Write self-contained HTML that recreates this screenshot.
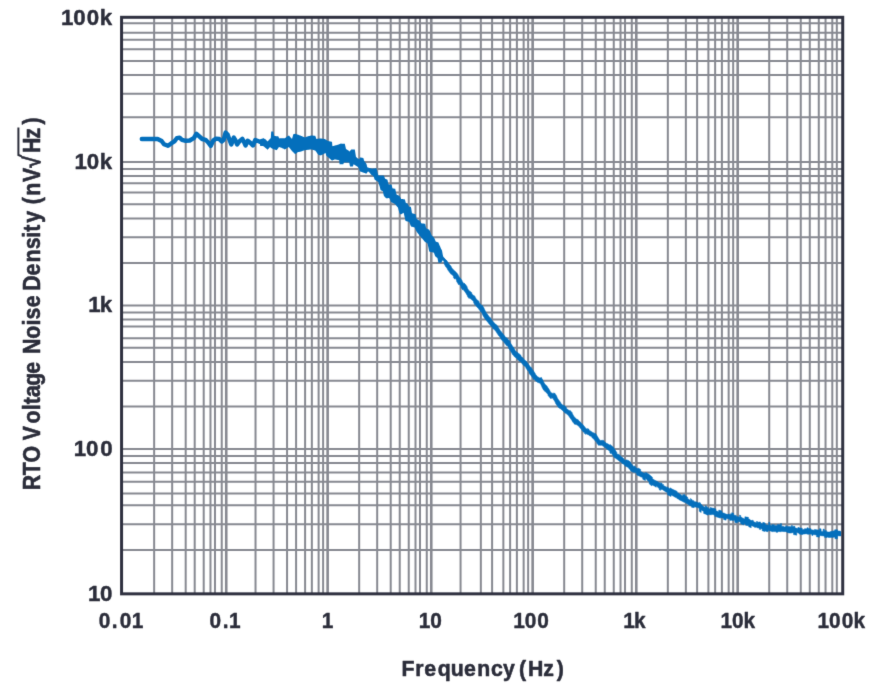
<!DOCTYPE html>
<html lang="en"><head><meta charset="utf-8"><title>RTO Voltage Noise Density vs Frequency</title>
<style>html,body{margin:0;padding:0;background:#fff}body{width:874px;height:692px;overflow:hidden}svg{display:block}</style></head>
<body>
<svg width="874" height="692" viewBox="0 0 874 692">
<defs><filter id="soft" x="0" y="0" width="874" height="692" filterUnits="userSpaceOnUse" color-interpolation-filters="sRGB"><feConvolveMatrix order="3" kernelMatrix="0.0100 0.0800 0.0100 0.0800 0.6400 0.0800 0.0100 0.0800 0.0100" edgeMode="duplicate" preserveAlpha="false"/></filter></defs>
<g filter="url(#soft)">
<rect width="874" height="692" fill="#fff"/>
<g stroke="#878991" stroke-width="2.0" fill="none">
<path d="M154.15 17.3V593.85M172.17 17.3V593.85M185.69 17.3V593.85M194.7 17.3V593.85M203.71 17.3V593.85M210.47 17.3V593.85M214.98 17.3V593.85M221.74 17.3V593.85M255.53 17.3V593.85M273.56 17.3V593.85M287.07 17.3V593.85M296.09 17.3V593.85M305.1 17.3V593.85M311.86 17.3V593.85M318.62 17.3V593.85M323.12 17.3V593.85M359.17 17.3V593.85M377.19 17.3V593.85M390.71 17.3V593.85M399.73 17.3V593.85M408.74 17.3V593.85M415.5 17.3V593.85M420 17.3V593.85M426.76 17.3V593.85M460.56 17.3V593.85M480.83 17.3V593.85M492.1 17.3V593.85M503.36 17.3V593.85M510.12 17.3V593.85M516.88 17.3V593.85M523.64 17.3V593.85M528.15 17.3V593.85M564.19 17.3V593.85M582.22 17.3V593.85M595.74 17.3V593.85M604.75 17.3V593.85M613.76 17.3V593.85M620.52 17.3V593.85M625.03 17.3V593.85M631.78 17.3V593.85M667.83 17.3V593.85M685.86 17.3V593.85M697.12 17.3V593.85M708.39 17.3V593.85M715.14 17.3V593.85M721.9 17.3V593.85M728.66 17.3V593.85M733.17 17.3V593.85M769.22 17.3V593.85M787.24 17.3V593.85M800.76 17.3V593.85M809.77 17.3V593.85M818.78 17.3V593.85M825.54 17.3V593.85M832.3 17.3V593.85M836.81 17.3V593.85M121.57 23.26H842.72M121.57 32.67H842.72M121.57 39.72H842.72M121.57 49.13H842.72M121.57 60.88H842.72M121.57 74.99H842.72M121.57 93.81H842.72M121.57 117.32H842.72M121.57 169.06H842.72M121.57 176.11H842.72M121.57 183.17H842.72M121.57 192.57H842.72M121.57 204.33H842.72M121.57 218.44H842.72M121.57 237.25H842.72M121.57 263.12H842.72M121.57 312.51H842.72M121.57 319.56H842.72M121.57 326.62H842.72M121.57 338.37H842.72M121.57 347.78H842.72M121.57 361.89H842.72M121.57 380.7H842.72M121.57 406.57H842.72M121.57 455.95H842.72M121.57 463.01H842.72M121.57 472.41H842.72M121.57 481.82H842.72M121.57 493.58H842.72M121.57 505.34H842.72M121.57 524.15H842.72M121.57 550.02H842.72"/>
<path stroke-width="2.6" d="M737.68 17.3V593.85M636.29 17.3V593.85M532.65 17.3V593.85M431.27 17.3V593.85M327.63 17.3V593.85M226.24 17.3V593.85"/>
<path stroke-width="2.05" d="M121.57 305.45H842.72M121.57 162H842.72M121.57 448.9H842.72"/>
</g>
<g fill="none" stroke="#046fbc" stroke-linejoin="round" stroke-linecap="round">
<path stroke-width="4.4" d="M141.8 139 L152 139 L157.6 139 L161.6 141 L164 144.2 L168 145.8 L171.2 143.4 L174.4 141.4 L176.8 138.2 L179.6 137.7 L182 139.8 L185.7 140.8 L189.7 140.5 L193.7 138.2 L196.5 133.8 L199.3 136.4 L202.2 139 L205.6 139.8 L208 142.2 L210.8 145.8 L213.2 140.6 L216 138.6 L219.2 139 L221.7 141.5 L223.6 139.8 L225.6 132.6 L227.6 134.6 L229.4 139.5 L231.3 144.5 L233.8 137.6 L235.4 140.2 L237.1 144.5 L239.1 141.7 L242.3 138.8 L244 141.8 L245.5 145.5 L247.7 140.7 L250.5 143 L252.9 145.5 L255.3 140 L259.3 141.5 L262.6 142.9 L263.9 141 L266 144.5"/>
<path fill="#046fbc" stroke="none" d="M260 139.4 L260.4 139.27 L260.8 139.13 L261.2 139 L261.6 138.87 L262 138.73 L262.4 138.6 L262.8 138.47 L263.2 138.33 L263.6 138.2 L264 138.52 L264.4 138.84 L264.8 139.16 L265.2 139.48 L265.6 139.8 L266 140.12 L266.4 140.44 L266.8 140.76 L267.2 141.08 L267.6 141.4 L268 140.98 L268.4 140.55 L268.8 140.13 L269.2 139.7 L269.6 139.28 L270 138.85 L270.4 138.43 L270.8 138 L271.2 131.4 L271.6 131.44 L272 131.47 L272.4 131.51 L272.8 131.55 L273.2 131.58 L273.6 132.7 L274 134.9 L274.4 136.02 L274.8 136.05 L275.2 136.08 L275.6 136.11 L276 136.14 L276.4 136.17 L276.8 136.2 L277.2 136.24 L277.6 136.29 L278 136.33 L278.4 136.38 L278.8 137.4 L279.2 138.38 L279.6 138.35 L280 138.32 L280.4 138.29 L280.8 138.26 L281.2 138.23 L281.6 138.2 L282 138.2 L282.4 138.2 L282.8 138.2 L283.2 138.2 L283.6 138.2 L284 138.2 L284.4 138.2 L284.8 138.2 L285.2 137.92 L285.6 137.64 L286 137.36 L286.4 137.08 L286.8 136.8 L287.2 136.52 L287.6 136.24 L288 135.96 L288.4 135.68 L288.8 135.4 L289.2 135.85 L289.6 136.3 L290 136.75 L290.4 137.2 L290.8 137.65 L291.2 138.1 L291.6 138.55 L292 139 L292.4 137.57 L292.8 136.14 L293.2 134.71 L293.6 133.98 L294 133.93 L294.4 133.89 L294.8 133.84 L295.2 133.8 L295.6 133.93 L296 134.07 L296.4 134.2 L296.8 134.33 L297.2 134.47 L297.6 134.6 L298 134.73 L298.4 134.87 L298.8 135 L299.2 135.13 L299.6 135.27 L300 135.4 L300.4 135.57 L300.8 135.73 L301.2 135.9 L301.6 136.07 L302 136.23 L302.4 136.4 L302.8 136.57 L303.2 136.73 L303.6 136.9 L304 137.07 L304.4 137.23 L304.8 137.4 L305.2 137.27 L305.6 137.13 L306 137 L306.4 136.87 L306.8 136.73 L307.2 136.6 L307.6 136.47 L308 136.36 L308.4 136.24 L308.8 136.12 L309.2 136.01 L309.6 135.89 L310 135.78 L310.4 135.66 L310.8 135.54 L311.2 135.43 L311.6 135.43 L312 135.47 L312.4 135.51 L312.8 135.55 L313.2 135.59 L313.6 135.63 L314 135.67 L314.4 135.71 L314.8 135.75 L315.2 135.79 L315.6 136.67 L316 137.84 L316.4 139 L316.8 138.93 L317.2 138.87 L317.6 138.8 L318 138.73 L318.4 138.67 L318.8 138.6 L319.2 138.53 L319.6 138.47 L320 138.4 L320.4 138.45 L320.8 138.5 L321.2 138.55 L321.6 138.6 L322 138.65 L322.4 138.7 L322.8 138.75 L323.2 138.8 L323.6 138.85 L324 138.9 L324.4 138.95 L324.8 139 L325.2 139.25 L325.6 139.5 L326 139.75 L326.4 140 L326.8 140.25 L327.2 140.5 L327.6 140.75 L328 141 L328.4 141.08 L328.8 141.16 L329.2 141.24 L329.6 141.32 L330 141.4 L330.4 141.48 L330.8 141.56 L331.2 141.64 L331.6 141.72 L332 141.8 L332.4 146.2 L332.8 146.09 L333.2 145.99 L333.6 145.88 L334 145.77 L334.4 145.67 L334.8 145.56 L335.2 145.45 L335.6 145.35 L336 145.24 L336.4 145.13 L336.8 145.03 L337.2 144.92 L337.6 144.81 L338 144.71 L338.4 144.6 L338.8 144.43 L339.2 144.27 L339.6 144.1 L340 143.93 L340.4 143.77 L340.8 143.6 L341.2 143.62 L341.6 143.64 L342 143.66 L342.4 143.68 L342.8 143.7 L343.2 143.72 L343.6 143.74 L344 143.76 L344.4 143.78 L344.8 143.8 L345.2 145.53 L345.6 147.27 L346 149 L346.4 149.27 L346.8 149.53 L347.2 149.8 L347.6 150.07 L348 150.33 L348.4 150.6 L348.8 150.87 L349.2 151.13 L349.6 151.4 L350 150.9 L350.4 150.4 L350.8 149.9 L351.2 149.4 L351.6 149.4 L352 149.4 L352.4 149.4 L352.8 149.4 L353.2 149.4 L353.6 149.4 L354 149.4 L354.4 149.4 L354.8 149.4 L355.2 151.93 L355.6 154.47 L356 157 L356.4 157.3 L356.8 157.6 L357.2 157.9 L357.6 158.2 L358 158.5 L358.4 158.8 L358.8 159.1 L359.2 159.4 L359.6 158.4 L360 157.4 L360.4 157.47 L360.8 157.54 L361.2 157.61 L361.6 157.68 L362 157.75 L362.4 157.82 L362.8 157.89 L363.2 157.96 L363.6 158.87 L364 160.6 L364.4 161.12 L364.8 161.63 L365.2 162.15 L365.6 162.67 L366 163.18 L366.4 163.7 L366.8 165.3 L367.2 166.9 L367.6 167.39 L368 167.51 L368.4 167.63 L368.8 167.76 L369.2 167.88 L369.6 168 L370 168.12 L370.4 168.24 L370.8 168.37 L371.2 168.49 L371.6 168.61 L372 168.69 L372.4 168.65 L372.8 168.6 L373.2 168.56 L373.6 168.52 L374 168.47 L374.4 168.43 L374.8 168.38 L375.2 168.34 L375.6 168.3 L376 168.25 L376.4 168.21 L376.8 169.43 L377.2 171.08 L377.6 172.72 L378 174.37 L378.4 175.6 L378.8 175.6 L379.2 175.6 L379.6 175.6 L380 175.6 L380.4 175.6 L380.8 175.6 L381.2 175.6 L381.6 175.6 L382 175.6 L382.4 175.6 L382.8 175.6 L383.2 175.6 L383.6 175.6 L384 176.06 L384.4 176.97 L384.8 177.89 L385.2 178.8 L385.6 178.96 L386 179.11 L386.4 179.27 L386.8 179.43 L387.2 179.58 L387.6 180.21 L388 182.26 L388.4 184.3 L388.8 184.35 L389.2 184.4 L389.6 184.45 L390 184.5 L390.4 184.55 L390.8 184.6 L391.2 184.65 L391.6 184.7 L392 186.34 L392.4 187.99 L392.8 188.44 L393.2 188.5 L393.6 188.56 L394 188.62 L394.4 188.68 L394.8 188.74 L395.2 188.8 L395.6 190.51 L396 192.23 L396.4 193.94 L396.8 194.86 L397.2 194.99 L397.6 195.12 L398 195.25 L398.4 195.38 L398.8 195.51 L399.2 195.64 L399.6 196.06 L400 196.77 L400.4 197.48 L400.8 198.19 L401.2 198.9 L401.6 198.95 L402 199.01 L402.4 199.06 L402.8 199.12 L403.2 199.17 L403.6 199.22 L404 199.28 L404.4 199.33 L404.8 199.39 L405.2 200.6 L405.6 202.2 L406 203.06 L406.4 203.17 L406.8 203.28 L407.2 203.39 L407.6 203.5 L408 204.41 L408.4 205.33 L408.8 206.24 L409.2 206.71 L409.6 206.73 L410 206.75 L410.4 206.77 L410.8 206.79 L411.2 208.22 L411.6 211.07 L412 213.23 L412.4 213.34 L412.8 213.44 L413.2 213.55 L413.6 213.66 L414 213.77 L414.4 213.88 L414.8 213.98 L415.2 214.09 L415.6 214.2 L416 216.2 L416.4 218.2 L416.8 218.89 L417.2 219.15 L417.6 219.4 L418 219.66 L418.4 219.91 L418.8 220.17 L419.2 220.42 L419.6 220.68 L420 220.94 L420.4 221.69 L420.8 222.61 L421.2 223.31 L421.6 223.36 L422 223.41 L422.4 223.46 L422.8 223.51 L423.2 223.56 L423.6 223.6 L424 223.65 L424.4 223.7 L424.8 223.75 L425.2 223.8 L425.6 225.8 L426 227.8 L426.4 228.43 L426.8 228.61 L427.2 228.78 L427.6 228.96 L428 229.13 L428.4 229.31 L428.8 229.48 L429.2 229.66 L429.6 230.42 L430 231.37 L430.4 232.33 L430.8 233.29 L431.2 234.24 L431.6 235.2 L432 235.61 L432.4 236.03 L432.8 236.44 L433.2 236.86 L433.6 237.27 L434 237.69 L434.4 238.26 L434.8 239.29 L435.2 240.31 L435.6 241.34 L436 241.7 L436.4 241.83 L436.8 241.97 L437.2 242.1 L437.6 242.23 L438 242.37 L438.4 242.5 L438.8 243.47 L439.2 244.44 L439.6 245.41 L440 246.37 L440.4 247.31 L440.8 248.13 L441.2 248.95 L441.6 249.77 L442 250.59 L442.4 252.63 L442.8 255.08 L443.2 256.54 L443.6 257.02 L444 257.5 L444.4 257.97 L444.8 258.45 L445.2 258.93 L445.6 259.41 L446 259.89 L446.4 260.37 L446.8 260.84 L447.2 261.32 L447.6 261.8 L447.6 266.5 L447.2 265.93 L446.8 265.35 L446.4 264.78 L446 264.2 L445.6 263.63 L445.2 263.06 L444.8 262.48 L444.4 261.97 L444 261.5 L443.6 261.02 L443.2 260.54 L442.8 260.21 L442.4 260.83 L442 261.46 L441.6 262.08 L441.2 262.7 L440.8 262.7 L440.4 262.7 L440 262.7 L439.6 262.7 L439.2 262.7 L438.8 262.7 L438.4 262.7 L438 260.66 L437.6 258.61 L437.2 257.87 L436.8 257.55 L436.4 257.24 L436 256.93 L435.6 256.61 L435.2 256.3 L434.8 255.16 L434.4 254.02 L434 252.88 L433.6 252.54 L433.2 252.46 L432.8 252.38 L432.4 252.31 L432 252.23 L431.6 252.15 L431.2 252.07 L430.8 251.99 L430.4 251.92 L430 251.84 L429.6 251.76 L429.2 251.24 L428.8 249.39 L428.4 247.55 L428 245.71 L427.6 243.86 L427.2 243.21 L426.8 242.95 L426.4 242.69 L426 242.44 L425.6 242.18 L425.2 241.92 L424.8 241.66 L424.4 241.24 L424 240.76 L423.6 240.28 L423.2 239.81 L422.8 239.33 L422.4 238.85 L422 238.37 L421.6 237.89 L421.2 237.42 L420.8 236.94 L420.4 236.46 L420 235.97 L419.6 235.46 L419.2 234.95 L418.8 234.44 L418.4 233.93 L418 233.42 L417.6 232.91 L417.2 232.39 L416.8 231.88 L416.4 231.28 L416 230.42 L415.6 229.56 L415.2 228.69 L414.8 227.83 L414.4 227.35 L414 227.25 L413.6 227.15 L413.2 227.05 L412.8 226.95 L412.4 226.85 L412 226.75 L411.6 226.65 L411.2 226.55 L410.8 225.99 L410.4 224.97 L410 223.94 L409.6 222.92 L409.2 221.9 L408.8 221.8 L408.4 221.71 L408 221.61 L407.6 221.51 L407.2 221.41 L406.8 221.32 L406.4 221.22 L406 221.12 L405.6 221.02 L405.2 219.63 L404.8 217.81 L404.4 215.99 L404 214.17 L403.6 212.86 L403.2 213.08 L402.8 213.31 L402.4 213.54 L402 213.76 L401.6 213.99 L401.2 214.22 L400.8 214.44 L400.4 214.18 L400 213.75 L399.6 213.32 L399.2 212.31 L398.8 210.74 L398.4 209.17 L398 207.6 L397.6 207.14 L397.2 206.67 L396.8 206.21 L396.4 205.75 L396 205.29 L395.6 204.82 L395.2 204.36 L394.8 203.9 L394.4 203.71 L394 203.51 L393.6 203.32 L393.2 203.12 L392.8 202.93 L392.4 202.73 L392 202.54 L391.6 202.34 L391.2 202.15 L390.8 201.42 L390.4 200.51 L390 199.59 L389.6 198.68 L389.2 198.01 L388.8 198.06 L388.4 198.11 L388 198.16 L387.6 198.21 L387.2 198.26 L386.8 198.31 L386.4 198.36 L386 198.28 L385.6 197.81 L385.2 197.34 L384.8 196.87 L384.4 196.4 L384 195.93 L383.6 194.68 L383.2 192.63 L382.8 191.06 L382.4 190.9 L382 190.75 L381.6 190.59 L381.2 190.43 L380.8 190.28 L380.4 189.38 L380 187.73 L379.6 186.18 L379.2 184.89 L378.8 183.61 L378.4 182.32 L378 181.81 L377.6 181.56 L377.2 181.32 L376.8 181.07 L376.4 180.82 L376 180.57 L375.6 180.32 L375.2 180.07 L374.8 179.82 L374.4 178.99 L374 177.57 L373.6 176.43 L373.2 176.15 L372.8 175.87 L372.4 175.59 L372 175.3 L371.6 175.02 L371.2 174.74 L370.8 174.34 L370.4 173.83 L370 173.31 L369.6 172.8 L369.2 172.29 L368.8 171.77 L368.4 171.63 L368 171.51 L367.6 171.9 L367.2 172.5 L366.8 173.1 L366.4 173.7 L366 173.56 L365.6 173.41 L365.2 173.27 L364.8 173.12 L364.4 172.98 L364 172.84 L363.6 172.69 L363.2 172.55 L362.8 172.41 L362.4 172.26 L362 172.12 L361.6 171.97 L361.2 171.83 L360.8 171.69 L360.4 171.54 L360 171.4 L359.6 170.4 L359.2 169.4 L358.8 168.4 L358.4 167.4 L358 167.13 L357.6 166.87 L357.2 166.6 L356.8 166.33 L356.4 166.07 L356 165.8 L355.6 165.53 L355.2 165.27 L354.8 165 L354.4 164.73 L354 164.47 L353.6 164.2 L353.2 165.4 L352.8 166.6 L352.4 166.6 L352 166.6 L351.6 166.6 L351.2 166.6 L350.8 166.6 L350.4 166.6 L350 166.6 L349.6 164.6 L349.2 162.6 L348.8 162.6 L348.4 162.6 L348 162.6 L347.6 162.6 L347.2 162.6 L346.8 162.6 L346.4 162.6 L346 162.6 L345.6 162.6 L345.2 162.6 L344.8 162.6 L344.4 162.6 L344 162.6 L343.6 163.4 L343.2 164.2 L342.8 164.2 L342.4 164.2 L342 164.2 L341.6 164.2 L341.2 164.2 L340.8 164.2 L340.4 164.2 L340 164.2 L339.6 164.2 L339.2 160.2 L338.8 160.13 L338.4 160.05 L338 159.98 L337.6 159.91 L337.2 159.84 L336.8 159.76 L336.4 159.69 L336 159.62 L335.6 159.55 L335.2 159.47 L334.8 159.4 L334.4 159.57 L334 159.74 L333.6 159.91 L333.2 160.09 L332.8 160.26 L332.4 160.43 L332 160.6 L331.6 160.25 L331.2 159.9 L330.8 159.55 L330.4 159.2 L330 158.85 L329.6 158.5 L329.2 158.15 L328.8 157.8 L328.4 157.47 L328 157.13 L327.6 156.8 L327.2 156.47 L326.8 156.13 L326.4 155.8 L326 154.4 L325.6 153 L325.2 153.2 L324.8 153.41 L324.4 153.61 L324 153.82 L323.6 154.02 L323.2 154.23 L322.8 154.43 L322.4 154.63 L322 154.84 L321.6 155.04 L321.2 155.25 L320.8 155.38 L320.4 155.32 L320 155.25 L319.6 155.18 L319.2 155.12 L318.8 155.05 L318.4 154.86 L318 154.31 L317.6 153.76 L317.2 153.21 L316.8 152.66 L316.4 152.11 L316 151.56 L315.6 151.01 L315.2 150.57 L314.8 150.45 L314.4 150.33 L314 150.21 L313.6 150.09 L313.2 149.97 L312.8 149.85 L312.4 149.73 L312 149.61 L311.6 149.49 L311.2 149.41 L310.8 149.46 L310.4 149.51 L310 149.56 L309.6 149.61 L309.2 149.66 L308.8 149.71 L308.4 149.76 L308 149.81 L307.6 149.86 L307.2 149.9 L306.8 149.95 L306.4 150 L306 150.05 L305.6 150.1 L305.2 150.15 L304.8 150.2 L304.4 150.33 L304 150.47 L303.6 150.6 L303.2 150.73 L302.8 150.87 L302.4 151 L302 151.13 L301.6 151.27 L301.2 151.4 L300.8 151.53 L300.4 151.67 L300 151.8 L299.6 151.84 L299.2 151.88 L298.8 151.92 L298.4 151.96 L298 152 L297.6 152.31 L297.2 152.63 L296.8 152.94 L296.4 153.26 L296 153.57 L295.6 153.89 L295.2 154.2 L294.8 153.8 L294.4 153.4 L294 153 L293.6 152.6 L293.2 152.2 L292.8 151.8 L292.4 151.4 L292 151 L291.6 150.5 L291.2 150 L290.8 149.5 L290.4 149 L290 148.5 L289.6 148 L289.2 147.5 L288.8 147 L288.4 147.24 L288 147.48 L287.6 147.72 L287.2 147.96 L286.8 148.2 L286.4 148.44 L286 148.68 L285.6 148.92 L285.2 149.16 L284.8 149.4 L284.4 149.2 L284 149 L283.6 148.8 L283.2 148.6 L282.8 148.4 L282.4 148.2 L282 148 L281.6 147.8 L281.2 147.68 L280.8 147.55 L280.4 147.43 L280 147.31 L279.6 147.18 L279.2 147.06 L278.8 147.29 L278.4 147.87 L278 148.45 L277.6 149.04 L277.2 149.62 L276.8 150.2 L276.4 150.07 L276 149.93 L275.6 149.8 L275.2 149.67 L274.8 149.53 L274.4 149.4 L274 149.27 L273.6 149.13 L273.2 149 L272.8 148.87 L272.4 148.73 L272 148.6 L271.6 148.28 L271.2 147.96 L270.8 147.64 L270.4 147.32 L270 147 L269.6 147.47 L269.2 147.93 L268.8 148.4 L268.4 148.87 L268 149.33 L267.6 149.8 L267.2 149.44 L266.8 149.08 L266.4 148.72 L266 148.36 L265.6 148 L265.2 147.64 L264.8 147.28 L264.4 146.92 L264 146.56 L263.6 146.2 L263.2 146.16 L262.8 146.11 L262.4 146.07 L262 146.02 L261.6 145.98 L261.2 145.93 L260.8 145.89 L260.4 145.84 L260 145.8Z"/>
<path fill="#046fbc" stroke="#046fbc" stroke-width="0.5" stroke-linejoin="round" d="M444.2 258.39 L445.52 259.54 L445.52 259.7 L446.4 260.5 L446.4 260.23 L447.29 261.38 L447.29 261.65 L448.78 263.58 L448.78 263.58 L450.46 265.85 L450.46 265.52 L451.46 267 L451.46 267.34 L453.19 269.7 L453.19 269.43 L454.63 271.11 L454.63 270.86 L456.8 273.04 L456.8 273.01 L458.47 275.21 L458.47 275.76 L460.36 278.62 L460.36 278.16 L462.18 280.87 L462.18 281.33 L464.12 283.92 L464.12 283.04 L465.72 284.85 L465.72 284.66 L467.26 286.96 L467.26 287.86 L468.46 290.13 L468.46 289.76 L469.65 291.47 L469.65 290.97 L471.85 292.86 L471.85 293.9 L474.22 295.97 L474.22 295.58 L475.28 296.97 L475.28 297.36 L476.86 299.94 L476.86 299.52 L477.79 300.73 L477.79 300.19 L479.15 301.85 L479.15 302.8 L480.68 304.13 L480.68 304.13 L482.24 306.12 L482.24 305.27 L484.16 308.3 L484.16 308.78 L485.58 311.39 L485.58 311.61 L487.11 314.01 L487.11 313.86 L488.7 316.06 L488.7 316.1 L489.71 317.41 L489.71 316.88 L491.98 319.95 L491.98 320.24 L493.5 322.01 L493.5 322.04 L495.61 324.33 L495.61 324.03 L497.99 326.43 L497.99 327.08 L499.03 328.48 L499.03 328.6 L500.88 331.58 L500.88 331.18 L502.62 333.41 L502.62 333.36 L503.66 334.56 L503.66 334.87 L504.97 336.28 L504.97 336.43 L506.59 338.32 L506.59 337.69 L508.78 340.3 L508.78 339.97 L510.22 341.64 L510.22 342.61 L511.11 343.94 L511.11 343.94 L512.62 346.26 L512.62 346.26 L513.5 347.98 L513.5 347.52 L515.16 350.31 L515.16 350.49 L516.08 351.56 L516.08 351.32 L517.11 352.39 L517.11 352.1 L518.88 353.65 L518.88 353.53 L521.03 355.46 L521.03 356.26 L522.33 357.55 L522.33 357.23 L523.68 358.64 L523.68 359.08 L525.59 360.92 L525.59 360.54 L527.91 363.18 L527.91 363.56 L529.58 365.83 L529.58 365.83 L530.86 367.61 L530.86 367.11 L532.08 368.82 L532.08 369.05 L533.45 370.97 L533.45 370.78 L535.49 374.04 L535.49 374.21 L537.27 376.48 L537.27 376.53 L539.38 377.72 L539.38 377.96 L540.97 377.95 L540.97 377.11 L543.03 380.33 L543.03 380.74 L544.94 384.26 L544.94 384.18 L547.24 386.31 L547.24 386.6 L548.63 388.77 L548.63 388.6 L550.18 391.25 L550.18 391.64 L551.98 393.2 L551.98 393.2 L553.82 393.52 L553.82 392.79 L554.81 393.57 L554.81 393.24 L556.81 396.17 L556.81 396.84 L558.31 399.8 L558.31 399.53 L560.62 402.42 L560.62 403.07 L562.61 405.02 L562.61 404.91 L563.68 405.89 L563.68 404.97 L565.43 406.49 L565.43 406.54 L566.46 407.44 L566.46 408.3 L567.82 409.49 L567.82 409.59 L569.9 411.08 L569.9 410.31 L572.2 412.68 L572.2 413.23 L573.31 415.38 L573.31 415.31 L574.45 417.44 L574.45 416.99 L575.77 418.3 L575.77 418.53 L576.67 419.23 L576.67 419 L578.53 419.98 L578.53 420.58 L580.73 422.37 L580.73 422.51 L582.37 424.06 L582.37 424.06 L584.41 426.55 L584.41 426.41 L585.45 427.89 L585.45 428.02 L587.41 429.48 L587.41 428.47 L589.04 429.28 L589.04 430.29 L590.01 430.7 L590.01 430.7 L591.25 431.42 L591.25 431.42 L592.95 432.68 L592.95 432.4 L594.73 433.64 L594.73 433 L596.26 434.24 L596.26 434.66 L597.45 436.23 L597.45 436.44 L599.68 440.04 L599.68 440.33 L600.7 440.78 L600.7 440.32 L602.52 440.55 L602.52 440.14 L604.07 440.74 L604.07 441.32 L607.41 444.02 L607.41 443.61 L610.08 445.33 L610.08 444.54 L613.38 447.14 L613.38 447.28 L616.85 452.56 L616.85 453.48 L618.28 454.69 L618.28 454 L620.4 455.65 L620.4 456.08 L621.91 457.22 L621.91 457.09 L623.86 458.69 L623.86 459.49 L626 460.62 L626 459.84 L628.35 460.38 L628.35 460.62 L629.52 461.27 L629.52 461.1 L630.79 462.48 L630.79 462.98 L634.14 466.98 L634.14 465.87 L635.48 466.72 L635.48 467.28 L638.24 468.97 L638.24 467.97 L640.63 469.51 L640.63 471.27 L641.87 472.04 L641.87 472.04 L643.34 472.83 L643.34 472.83 L644.39 473.37 L644.39 472.87 L645.6 473.46 L645.6 472.26 L648.85 474.17 L648.85 474.17 L652.43 477.31 L652.43 478.75 L654.13 479.73 L654.13 479.97 L656.97 481.32 L656.97 481.06 L658.65 482.72 L658.65 481.99 L660.47 483.69 L660.47 482.63 L662 483.17 L662 484.14 L663.46 484.4 L663.46 485.48 L667.05 487.38 L667.05 486.79 L669.95 488.98 L669.95 487.81 L671.59 488.66 L671.59 488.87 L674.72 490.37 L674.72 490.21 L677.14 491.38 L677.14 492.4 L678.94 493.28 L678.94 493.68 L680.83 494.6 L680.83 494.88 L682.74 495.81 L682.74 494.62 L683.77 495.13 L683.77 494.25 L684.92 494.76 L684.92 495.57 L687.66 497.13 L687.66 498.39 L690.46 500.5 L690.46 498.4 L691.87 499.5 L691.87 500.17 L693.82 500.69 L693.82 501.51 L696.24 501.92 L696.24 501.84 L699.54 503.13 L699.54 502.27 L700.54 502.97 L700.54 503.86 L702.26 505.16 L702.26 505.83 L705.28 507.53 L705.28 505.64 L706.51 506.14 L706.51 506.89 L708.54 507.74 L708.54 508.49 L710.14 509.03 L710.14 507.42 L713.01 508.28 L713.01 508.05 L715.88 508.91 L715.88 510.84 L718.76 511.7 L718.76 510.02 L721.93 510.96 L721.93 512.52 L725.05 513.45 L725.05 513.87 L728 514.6 L728 513.98 L730.52 514.52 L730.52 513.72 L731.63 513.95 L731.63 512.76 L733.61 513.15 L733.61 515.03 L736.24 515.51 L736.24 516.24 L737.25 516.39 L737.25 516.39 L739.56 517.35 L739.56 515.02 L740.73 515.61 L740.73 516.84 L741.92 517.5 L741.92 517.81 L744.89 518.89 L744.89 516.81 L748.43 517.37 L748.43 518.91 L749.63 519.05 L749.63 519.77 L752.23 520.75 L752.23 520.09 L753.61 520.86 L753.61 521.85 L756.42 522.65 L756.42 521.53 L757.57 521.61 L757.57 522.26 L758.83 522.34 L758.83 521.92 L760.59 522.01 L760.59 523.21 L762.8 523.79 L762.8 522.3 L765.23 523.04 L765.23 524.52 L768.66 525.37 L768.66 522.24 L769.86 522.49 L769.86 524.98 L771.87 525.42 L771.87 524.59 L773.1 524.67 L773.1 524.7 L774.45 524.71 L774.45 525.39 L777.28 525.39 L777.28 524.57 L780.55 524.84 L780.55 523.58 L781.56 523.69 L781.56 526.16 L783.62 526.36 L783.62 526.73 L785.6 527.1 L785.6 525.68 L786.6 525.87 L786.6 526.47 L787.91 526.74 L787.91 526.4 L791.26 526.69 L791.26 525.61 L792.43 525.61 L792.43 526.39 L794.96 526.37 L794.96 527.83 L797.92 528.62 L797.92 527.29 L799.06 527.63 L799.06 527.72 L800.44 528.18 L800.44 528.02 L802.26 528.15 L802.26 529.55 L804.38 529.55 L804.38 528.73 L807.02 528.78 L807.02 527.73 L808.14 527.85 L808.14 528.45 L811.1 528.76 L811.1 529.68 L814.47 530.22 L814.47 529.38 L816.55 529.78 L816.55 529.73 L819.47 530.18 L819.47 528.69 L821.09 528.86 L821.09 531.18 L823.12 531.39 L823.12 529.08 L824.31 529.2 L824.31 530.42 L826.49 530.64 L826.49 531.75 L828.66 531.99 L828.66 532.01 L830.3 531.94 L830.3 531.58 L831.53 531.36 L831.53 531.22 L834.64 530.75 L834.64 529.8 L837.59 529.85 L837.59 530.95 L840.53 531.1 L840.53 531.82 L841 531.85 L841 535.95 L840.09 535.9 L840.09 535.9 L837.48 535.77 L837.48 538.77 L834.91 538.68 L834.91 537.07 L831.94 537.56 L831.94 537.24 L830.27 537.48 L830.27 537.47 L828.39 537.5 L828.39 537.15 L827.05 537.02 L827.05 537.57 L824.41 537.3 L824.41 536.04 L820.94 535.68 L820.94 535.68 L819.41 535.52 L819.41 537.16 L816.44 536.73 L816.44 535.1 L812.96 534.42 L812.96 535.55 L811.79 535.36 L811.79 534.23 L809.14 533.94 L809.14 534.35 L808.06 534.23 L808.06 534.23 L806.64 534.08 L806.64 533.67 L805.57 533.65 L805.57 533.98 L803.05 533.98 L803.05 534.38 L801.25 534.39 L801.25 534.44 L799.11 534.01 L799.11 533.23 L796.73 532.53 L796.73 535.17 L793.51 534.59 L793.51 532.68 L791.5 532.68 L791.5 533.08 L788.56 532.95 L788.56 532.71 L786.95 532.42 L786.95 531.88 L784.63 531.43 L784.63 531.73 L781.22 531.26 L781.22 531.78 L777.83 531.43 L777.83 532.28 L776.14 532.28 L776.14 531.61 L772.73 531.62 L772.73 531.7 L771.63 531.6 L771.63 531.3 L768.04 530.58 L768.04 531.79 L765.83 531.3 L765.83 531.02 L764.82 530.73 L764.82 531.53 L762.19 530.73 L762.19 528.94 L760.73 528.46 L760.73 529.43 L759.22 529.29 L759.22 527.9 L756.78 527.73 L756.78 527.09 L755.63 527.05 L755.63 527.38 L754.57 527.3 L754.57 526.97 L751.22 525.39 L751.22 527.71 L748.71 526.8 L748.71 525.73 L745.58 525.22 L745.58 523.96 L743.89 523.74 L743.89 524.91 L740.63 523.67 L740.63 522.49 L738.45 521.31 L738.45 522.1 L737.42 521.54 L737.42 523 L734.8 522.41 L734.8 520.49 L733.01 520.15 L733.01 520.53 L730.65 520.06 L730.65 520.48 L729.65 520.27 L729.65 519.14 L728.05 518.81 L728.05 518.81 L726.11 518.42 L726.11 520.19 L723.51 519.45 L723.51 518.32 L720.56 517.45 L720.56 518.14 L717.01 517.08 L717.01 517.04 L714.66 516.34 L714.66 515.06 L711.73 514.18 L711.73 514.83 L710.52 514.47 L710.52 514.97 L708.02 514.18 L708.02 515.18 L706.05 514.41 L706.05 514.25 L703.66 513.38 L703.66 511.39 L701.15 509.97 L701.15 512.58 L699.22 511.18 L699.22 508.57 L697.53 507.17 L697.53 507.57 L694.2 506.76 L694.2 507.66 L691.54 507.26 L691.54 506.31 L690.45 505.67 L690.45 506 L687.85 504.23 L687.85 504.3 L684.46 502 L684.46 502.47 L682.27 501.37 L682.27 501.27 L678.94 499.64 L678.94 499.37 L677.03 498.45 L677.03 498.08 L674.15 496.69 L674.15 496.5 L671.04 495.01 L671.04 496.59 L667.49 494.74 L667.49 492.85 L666.32 491.97 L666.32 492.22 L662.99 489.96 L662.99 489.71 L660.66 489.26 L660.66 490.33 L659.32 489.91 L659.32 488.84 L656.24 485.86 L656.24 487.25 L654.9 486.4 L654.9 486.26 L651.79 484.84 L651.79 485.88 L649.19 483.84 L649.19 482.12 L646.91 479.99 L646.91 479.41 L645.45 478.53 L645.45 480.58 L642.74 479.2 L642.74 477.72 L640.93 476.79 L640.93 477.04 L638.5 475.55 L638.5 475.94 L636.66 474.78 L636.66 473.57 L634.2 472.08 L634.2 472.47 L632.56 471.85 L632.56 472.13 L631.15 470.81 L631.15 471.49 L629.58 469.12 L629.58 469.22 L628.07 467.5 L628.07 467.27 L624.85 465.92 L624.85 464.94 L622.23 463.47 L622.23 463.22 L619.58 461.28 L619.58 461.28 L617.32 459.55 L617.32 459.55 L614.15 457.16 L614.15 457.59 L611.09 452.52 L611.09 453.87 L609.8 452.63 L609.8 451.12 L608.07 450.03 L608.07 449.97 L604.66 447.31 L604.66 447.11 L601.29 445.09 L601.29 445.34 L600.16 445.37 L600.16 445.24 L598.77 445.01 L598.77 445.57 L596.66 443.03 L596.66 442.48 L595.85 441.1 L595.85 441.56 L594.43 439.95 L594.43 439.82 L593.6 438.99 L593.6 438.95 L591.89 437.47 L591.89 437.05 L590.42 435.75 L590.42 436.22 L589.19 435.5 L589.19 435.16 L588.24 434.64 L588.24 434.65 L586.38 433.94 L586.38 433.8 L585.48 433.46 L585.48 434.4 L584.63 433.6 L584.63 433.03 L583.53 431.96 L583.53 432.29 L581.42 429.8 L581.42 429.39 L579.58 427.31 L579.58 427.02 L577.18 424.94 L577.18 425.05 L575.79 424.26 L575.79 424.54 L574.04 423.92 L574.04 423.52 L572.82 422.01 L572.82 422.14 L571.42 419.6 L571.42 419.78 L569.07 416.49 L569.07 416.18 L567.9 415.09 L567.9 415.09 L565.63 413.12 L565.63 413.42 L563.42 411.5 L563.42 411.21 L561.03 409.17 L561.03 409.17 L559.86 408.14 L559.86 408.4 L558.43 407.39 L558.43 407.37 L557.18 405.76 L557.18 405.76 L555.98 403.89 L555.98 404.04 L554.59 400.91 L554.59 400.97 L553.32 399.29 L553.32 398.84 L551.44 397.57 L551.44 398.53 L550.43 398.49 L550.43 398.34 L548.04 395.48 L548.04 394.66 L547.11 393.48 L547.11 393.48 L544.9 391.17 L544.9 391.32 L543.22 389.68 L543.22 389.52 L542.32 387.69 L542.32 387.81 L540.89 384.46 L540.89 384.34 L538.84 382.41 L538.84 382.84 L537.52 382.39 L537.52 382.1 L535.53 380.94 L535.53 380.8 L533.94 378.98 L533.94 379.78 L531.68 376.62 L531.68 376.54 L530.13 374.38 L530.13 374.65 L528.96 373 L528.96 372.01 L527.68 370.12 L527.68 370.62 L525.74 367.86 L525.74 367.35 L524.4 365.77 L524.4 366.19 L522.16 363.83 L522.16 363.7 L521.26 362.71 L521.26 362.42 L520.41 361.48 L520.41 362.03 L518.95 360.63 L518.95 360.84 L516.97 359.04 L516.97 358.52 L514.7 357.01 L514.7 357.01 L512.77 354.54 L512.77 354.85 L510.66 351.24 L510.66 351.3 L508.64 348.21 L508.64 347.58 L507.17 345.61 L507.17 345.98 L506.37 344.92 L506.37 345.36 L503.99 342.42 L503.99 342.35 L502.13 340.33 L502.13 340.36 L501.03 339.28 L501.03 338.64 L498.63 335.27 L498.63 335.62 L496.4 332.35 L496.4 332 L494.46 329.75 L494.46 329.75 L493.62 328.85 L493.62 329.27 L492.59 328.23 L492.59 327.68 L491.01 325.96 L491.01 326.11 L489.22 323.88 L489.22 324.11 L488.06 322.61 L488.06 322.47 L486.94 321.18 L486.94 321.21 L485.33 319.12 L485.33 319.34 L484.22 317.65 L484.22 317.64 L482.27 314.21 L482.27 313.74 L481.1 311.51 L481.1 312.27 L479.94 310.72 L479.94 310.52 L478.83 309.13 L478.83 308.94 L477.37 307.56 L477.37 307.41 L476.19 305.99 L476.19 306.04 L474.89 304.26 L474.89 304.85 L473.6 302.59 L473.6 301.75 L472.45 300.11 L472.45 300.37 L470.14 298.44 L470.14 298.19 L469.16 297.73 L469.16 298.6 L467.51 296.61 L467.51 295.91 L466.23 293.83 L466.23 293.66 L465.05 291.93 L465.05 291.93 L463.01 289.21 L463.01 290.17 L461.06 287.73 L461.06 286.78 L460.01 285.32 L460.01 285.32 L458.82 283.59 L458.82 284.91 L456.53 281.22 L456.53 279.9 L454.95 277.91 L454.95 279.22 L453.47 277.63 L453.47 276.32 L451.27 273.84 L451.27 274.44 L449.76 272.43 L449.76 272.6 L447.52 269.54 L447.52 269.04 L445.92 266.76 L445.92 266.95 L444.2 263.92Z"/>
</g>
<rect x="121.57" y="17.3" width="721.15" height="576.55" fill="none" stroke="#2f3140" stroke-width="3.0"/>
<g font-family="'Liberation Sans', sans-serif" font-weight="bold" font-size="22.3" fill="#2b2d3a" stroke="#2b2d3a" stroke-width="0.45" stroke-linejoin="round">
<text x="60.98 73.21 86.81 99.86" y="24.7">100k</text>
<text x="74.58 86.81 99.86" y="168.9">10k</text>
<text x="88.3 99.86" y="312.3">1k</text>
<text x="73.78 86.01 100.26" y="456.1">100</text>
<text x="87.88 100.11" y="601.4">10</text>
<text transform="scale(0.935 1)" x="105.52 119.64 128.09 140.98" y="628.45">0.01</text>
<text transform="scale(0.935 1)" x="223.97 238.25 244.83" y="628.45">0.1</text>
<text transform="scale(0.935 1)" x="344" y="628.45">1</text>
<text transform="scale(0.935 1)" x="447.83 460.12" y="628.45">10</text>
<text transform="scale(0.935 1)" x="548.95 561.24 574.51" y="628.45">100</text>
<text transform="scale(0.935 1)" x="666.46 678.09" y="628.45">1k</text>
<text transform="scale(0.935 1)" x="770.71 783.01 795.2" y="628.45">10k</text>
<text transform="scale(0.935 1)" x="874.35 886.65 900.18 912.96" y="628.45">100k</text>
</g>
<g font-family="'Liberation Sans', sans-serif" font-weight="bold" font-size="22.5" fill="#2b2d3a" stroke="#2b2d3a" stroke-width="0.55" stroke-linejoin="round">
<text transform="translate(0 676.0) scale(0.945 1)" x="424.96 439.44 449.03 463.15 477.09 490.94 505.09 519.51 532.18 544.69 549.14 558.65 574.96 589.19" y="0">Frequency (Hz)</text>
<text transform="translate(40.05 0) rotate(-90) scale(0.945 1.06)" x="-518.69 -502.8 -489.53 -478.28 -465.97 -448.09 -434.23 -427.71 -420.15 -408.17 -395.46 -384.21 -374.68 -358.51 -344.44 -337.99 -325.09 -313.84 -307.72 -291.5 -277.92 -263.81 -251.58 -245.33 -235.6 -224.35 -216.1 -207.24 -192.69 -177.62 -162.04 -146.52 -131.66" y="0">RTO Voltage Noise Density (nV√Hz)</text>
</g>
<path d="M21.57 156.26L18.4 154.96V127.4" stroke="#2b2d3a" stroke-width="2" fill="none" stroke-linejoin="miter"/>
</g>
</svg>
</body></html>
